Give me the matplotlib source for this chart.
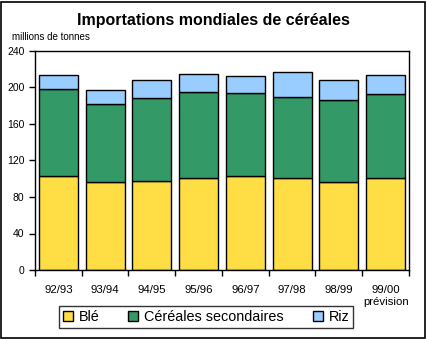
import matplotlib
matplotlib.use("Agg")
import matplotlib.pyplot as plt
from matplotlib.patches import Rectangle
import numpy as np

plt.rcParams['font.family'] = ['Liberation Sans', 'DejaVu Sans']

categories = ["92/93", "93/94", "94/95", "95/96", "96/97", "97/98", "98/99", "99/00\nprévision"]
ble = [103, 96, 98, 100.5, 103.4, 100.5, 96, 100.5]
secondaires = [95.5, 85.5, 90.5, 95, 91, 89, 90.6, 92.8]
riz = [15, 15.3, 20, 19, 18.3, 28, 21.2, 20]

fig = plt.figure(figsize=(4.27, 3.40), dpi=100)
ax = fig.add_axes([35/427, 1-270/340, (409-35)/427, (270-51)/340])

x = np.arange(len(categories))
w = 0.83
b1 = np.array(ble)
b2 = b1 + np.array(secondaires)
ax.bar(x, ble, w, color='#FFDD44', edgecolor='black', linewidth=1, label='Blé')
ax.bar(x, secondaires, w, bottom=b1, color='#339966', edgecolor='black', linewidth=1, label='Céréales secondaires')
ax.bar(x, riz, w, bottom=b2, color='#99CCFF', edgecolor='black', linewidth=1, label='Riz')

ax.set_xlim(-0.5, len(categories)-0.5)
ax.set_ylim(0, 240)
ax.set_yticks(range(0, 241, 40))
ax.tick_params(axis='y', direction='out', length=4, labelsize=7.5, width=1)
ax.set_xticks(x)
ax.set_xticklabels(categories, fontsize=8.2, linespacing=1.2)
ax.tick_params(axis='x', length=0, pad=11)
ax.set_xticks(np.arange(-0.5, len(categories), 1), minor=True)
ax.tick_params(axis='x', which='minor', direction='out', length=4, width=1)
for s in ax.spines.values():
    s.set_linewidth(1)
    s.set_color('black')

fig.text(0.5, 1-20/340, "Importations mondiales de céréales", ha='center', va='center',
         fontsize=11.5, fontweight='bold')
fig.text(12/427, 1-37/340, "millions de tonnes", ha='left', va='center', fontsize=7)

leg = fig.legend(loc='center', bbox_to_anchor=(206/427, 1-317/340), ncol=3, fontsize=10.4,
                 frameon=True, fancybox=False, edgecolor='black', handlelength=0.7,
                 handleheight=0.7, handletextpad=0.4, columnspacing=2.0,
                 borderpad=0.25)
leg.get_frame().set_linewidth(1)

fig.patches.append(Rectangle((1/427, 2/340), 424/427, 336/340, transform=fig.transFigure,
                             fill=False, edgecolor='black', linewidth=1.2))

fig.savefig("out.png", dpi=100)
